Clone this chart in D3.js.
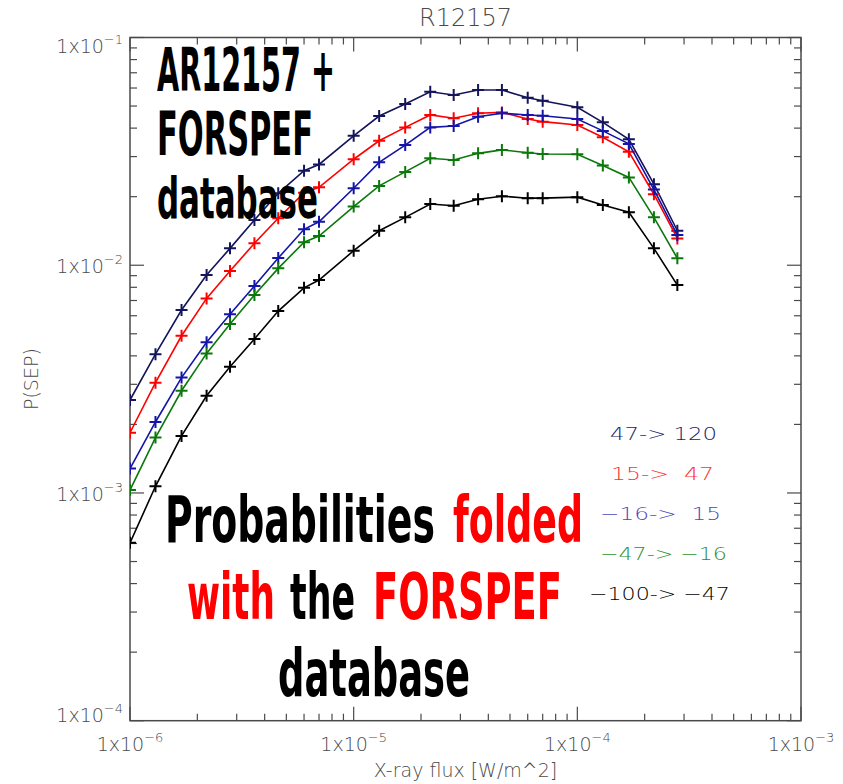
<!DOCTYPE html>
<html>
<head>
<meta charset="utf-8">
<script src="https://cdn.jsdelivr.net/npm/d3@7"></script>
<style>
body { margin: 0; background: #fff; }
svg { display: block; }
text { font-family: "DejaVu Sans", sans-serif; }
.big { font-family: "Liberation Sans Narrow", "DejaVu Sans Condensed", sans-serif; font-weight: bold; }
</style>
</head>
<body>
<svg id="chart"></svg>
<script>
// x-ray flux bins [W/m^2]
var flux = [1.0e-6, 1.3e-6, 1.7e-6, 2.2e-6, 2.8e-6, 3.6e-6, 4.6e-6, 6.0e-6, 7.0e-6,
            1.0e-5, 1.3e-5, 1.7e-5, 2.2e-5, 2.8e-5, 3.6e-5, 4.6e-5, 6.0e-5, 7.0e-5,
            1.0e-4, 1.3e-4, 1.7e-4, 2.2e-4, 2.8e-4]

// P(SEP) per longitude band
var band47to120 = [0.00256, 0.00407, 0.00636, 0.00906, 0.01186, 0.0158, 0.0207, 0.0260, 0.0277,
                   0.0370, 0.0452, 0.0511, 0.0578, 0.0559, 0.0588, 0.0588, 0.0544, 0.0528,
                   0.0494, 0.0424, 0.0357, 0.0227, 0.01417]
var band15to47 = [0.00184, 0.00305, 0.00490, 0.00715, 0.00943, 0.01248, 0.01607, 0.0208, 0.0220,
                  0.0292, 0.0352, 0.0403, 0.0457, 0.0442, 0.0465, 0.0469, 0.0439, 0.0427,
                  0.0413, 0.0365, 0.0315, 0.0205, 0.01312]
var bandM16to15 = [0.00128, 0.00205, 0.00321, 0.00459, 0.00609, 0.00810, 0.01075, 0.01438, 0.01552,
                   0.02177, 0.0283, 0.0337, 0.0403, 0.0409, 0.0449, 0.0465, 0.0457, 0.0453,
                   0.0439, 0.0389, 0.0341, 0.0215, 0.01357]
var bandM47toM16 = [0.00103, 0.00175, 0.00281, 0.00410, 0.00552, 0.00740, 0.00969, 0.01262, 0.01343,
                    0.0181, 0.0223, 0.0257, 0.0295, 0.0290, 0.0310, 0.0321, 0.0312, 0.0308,
                    0.0307, 0.0274, 0.0243, 0.01623, 0.01072]
var bandM100toM47 = [0.000604, 0.00107, 0.00178, 0.00267, 0.00358, 0.00474, 0.00629, 0.00796, 0.00861,
                     0.01158, 0.01417, 0.01623, 0.01857, 0.01825, 0.01948, 0.0201, 0.0197, 0.0197,
                     0.0199, 0.0184, 0.0171, 0.01186, 0.00818]

var bandLabels = ["47-> 120", "15->  47", "-16->  15", "-47-> -16", "-100-> -47"]
var bandValues = [band47to120, band15to47, bandM16to15, bandM47toM16, bandM100toM47]
var lineColors = ["#14145a", "#ff0000", "#1414a8", "#0a780a", "#000000"]
var legendColors = ["#22226a", "#ff3030", "#4a4abc", "#2a902a", "#000000"]

var width = 843, height = 784
var margin = {top: 37.5, right: 42, bottom: 63.3, left: 130}
var x0 = margin.left, x1 = width - margin.right
var y0 = height - margin.bottom, y1 = margin.top

var svg = d3.select("#chart")
    .attr("width", width)
    .attr("height", height)

var x = d3.scaleLog().domain([1e-6, 1e-3]).range([x0, x1])
var y = d3.scaleLog().domain([1e-4, 1e-1]).range([y0, y1])

function isMajor(d) {
    var l = Math.log10(d)
    return Math.abs(l - Math.round(l)) < 1e-9
}

// squeeze a text horizontally to a given width (keeps bbox honest)
function fitWidth(sel, px, py, w) {
    var natural = sel.node().getComputedTextLength()
    sel.attr("x", 0).attr("y", 0)
        .attr("transform", "translate(" + px + "," + py + ") scale(" + (w / natural) + ",1)")
}

svg.append("clipPath").attr("id", "plotclip")
    .append("rect")
    .attr("x", x0).attr("y", y1)
    .attr("width", x1 - x0).attr("height", y0 - y1)

// frame
var axisColor = "#4a4a4a"
svg.append("rect")
    .attr("x", x0).attr("y", y1)
    .attr("width", x1 - x0).attr("height", y0 - y1)
    .attr("fill", "none")
    .attr("stroke", axisColor)
    .attr("stroke-width", 1.5)

var tickG = svg.append("g").attr("stroke", axisColor).attr("stroke-width", 1.2)

x.ticks().forEach(function (d) {
    var len = isMajor(d) ? 14 : 7
    tickG.append("line").attr("x1", x(d)).attr("x2", x(d)).attr("y1", y0).attr("y2", y0 - len)
    tickG.append("line").attr("x1", x(d)).attr("x2", x(d)).attr("y1", y1).attr("y2", y1 + len)
})
y.ticks().forEach(function (d) {
    var len = isMajor(d) ? 14 : 7
    tickG.append("line").attr("y1", y(d)).attr("y2", y(d)).attr("x1", x0).attr("x2", x0 + len)
    tickG.append("line").attr("y1", y(d)).attr("y2", y(d)).attr("x1", x1).attr("x2", x1 - len)
})

function powLabel(sel, d) {
    sel.append("tspan").text("1x10")
    sel.append("tspan")
        .attr("dy", -9)
        .style("font-size", "13px")
        .text("\u2212" + Math.abs(Math.round(Math.log10(d))))
}

var labelColor = "#4a4a4a"
x.ticks().filter(isMajor).forEach(function (d) {
    var t = svg.append("text")
        .attr("x", x(d)).attr("y", 751)
        .attr("text-anchor", "middle")
        .attr("fill", labelColor)
        .style("font-size", "19px")
        .style("font-weight", 300)
    powLabel(t, d)
})
y.ticks().filter(isMajor).forEach(function (d) {
    var yy = Math.min(Math.max(y(d) + 8, 53), 722)
    var t = svg.append("text")
        .attr("x", 123).attr("y", yy)
        .attr("text-anchor", "end")
        .attr("fill", labelColor)
        .style("font-size", "19px")
        .style("font-weight", 300)
    powLabel(t, d)
})

// titles
svg.append("text")
    .attr("x", (x0 + x1) / 2).attr("y", 26)
    .attr("text-anchor", "middle")
    .attr("fill", labelColor)
    .style("font-size", "24px")
    .style("font-weight", 300)
    .text("R12157")
svg.append("text")
    .attr("x", (x0 + x1) / 2).attr("y", 777)
    .attr("text-anchor", "middle")
    .attr("fill", labelColor)
    .style("font-size", "19px")
    .style("font-weight", 300)
    .text("X-ray flux [W/m^2]")
svg.append("text")
    .attr("transform", "translate(38," + ((y0 + y1) / 2) + ") rotate(-90)")
    .attr("text-anchor", "middle")
    .attr("fill", labelColor)
    .style("font-size", "19px")
    .style("font-weight", 300)
    .text("P(SEP)")

// series
var line = d3.line()
    .x(function (d, i) { return x(flux[i]) })
    .y(function (d) { return y(d) })

var plot = svg.append("g").attr("clip-path", "url(#plotclip)")

bandValues.forEach(function (vals, k) {
    var g = plot.append("g")
    g.append("path")
        .datum(vals)
        .attr("d", line)
        .attr("fill", "none")
        .attr("stroke", lineColors[k])
        .attr("stroke-width", 1.6)
    g.selectAll("path.mk")
        .data(vals)
        .enter().append("path")
        .attr("class", "mk")
        .attr("d", function (d, i) {
            var cx = x(flux[i]), cy = y(d)
            return "M" + (cx - 6) + "," + cy + "H" + (cx + 6) + "M" + cx + "," + (cy - 6) + "V" + (cy + 6)
        })
        .attr("stroke", lineColors[k])
        .attr("stroke-width", 2)
})

// legend
bandLabels.forEach(function (lab, k) {
    var t = svg.append("text")
        .attr("fill", legendColors[k])
        .style("font-size", "18px")
        .style("font-weight", 300)
        .style("white-space", "pre")
        .text(lab.replace(/-(?!>)/g, "\u2212"))
    fitWidth(t, [610, 611, 600, 600, 589][k], 440 + 40 * k, [107, 103, 121, 127, 141][k])
})

// annotations
var notes = [
    {t: "AR12157 +", x: 157, y: 91, w: 178, s: 60, c: "#000"},
    {t: "FORSPEF", x: 157, y: 155, w: 156, s: 60, c: "#000"},
    {t: "database", x: 157, y: 218, w: 161, s: 57, c: "#000"},
    {t: "Probabilities", x: 165, y: 542, w: 270, s: 64, c: "#000"},
    {t: "folded", x: 453, y: 542, w: 130, s: 64, c: "#ff0000"},
    {t: "with", x: 187, y: 619, w: 88, s: 64, c: "#ff0000"},
    {t: "the", x: 290, y: 619, w: 65, s: 64, c: "#000"},
    {t: "FORSPEF", x: 373, y: 619, w: 189, s: 64, c: "#ff0000"},
    {t: "database", x: 278, y: 696, w: 192, s: 66, c: "#000"}
]
notes.forEach(function (d) {
    var t = svg.append("text")
        .attr("class", "big")
        .attr("fill", d.c)
        .style("font-size", d.s + "px")
        .text(d.t)
    fitWidth(t, d.x, d.y, d.w)
})
</script>
</body>
</html>
